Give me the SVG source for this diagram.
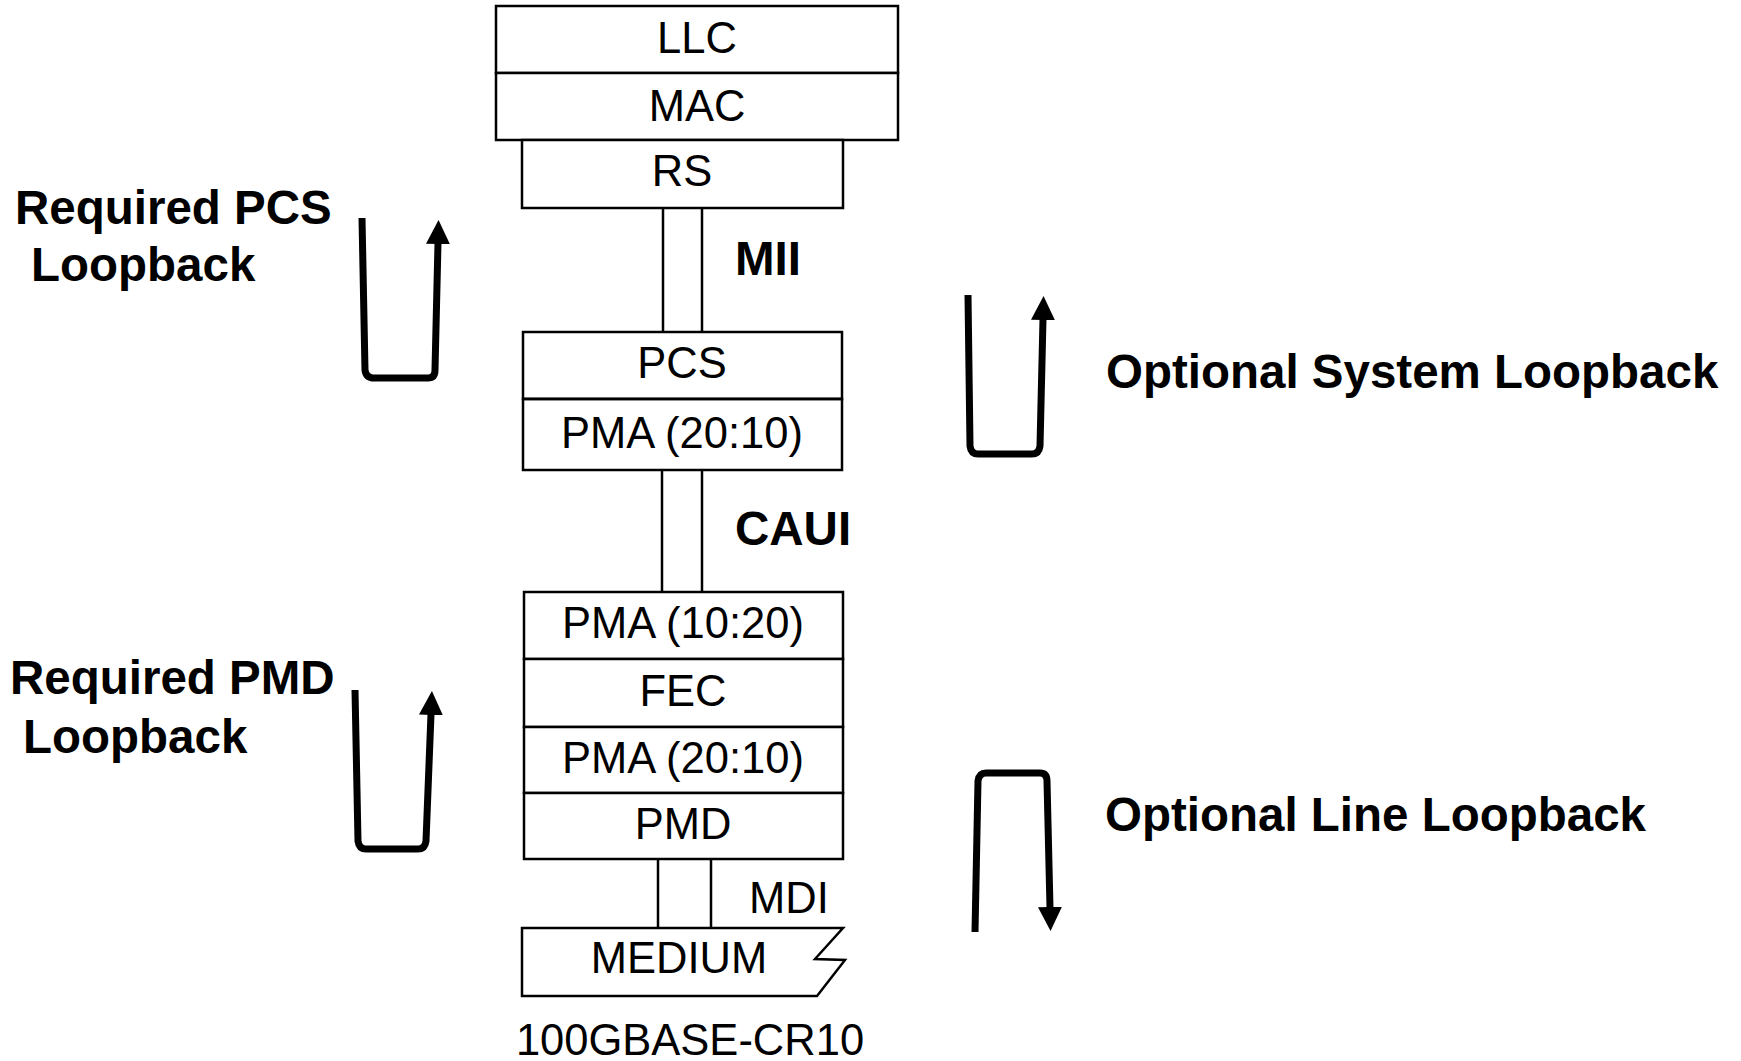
<svg xmlns="http://www.w3.org/2000/svg" width="1741" height="1061" viewBox="0 0 1741 1061">
<style>
  .box { fill: #ffffff; stroke: #000000; stroke-width: 2.5; }
  .wire { stroke: #000000; stroke-width: 2.5; fill: none; }
  .loop { stroke: #000000; stroke-width: 7; fill: none; stroke-linejoin: round; }
  .t { font-family: "Liberation Sans", Arial, sans-serif; font-size: 43.5px; fill: #000000; text-anchor: middle; }
  .b { font-family: "Liberation Sans", Arial, sans-serif; font-size: 47.5px; font-weight: bold; fill: #000000; }
</style>
<defs>
  <marker id="head" markerUnits="userSpaceOnUse" viewBox="0 0 24 24" markerWidth="24" markerHeight="24" refX="1" refY="12" orient="auto">
    <path d="M0,0 L24,12 L0,24 z" fill="#000000"/>
  </marker>
</defs>
<rect width="1741" height="1061" fill="#ffffff"/>

<g id="connectors">
  <g id="mii">
    <line class="wire" x1="663" y1="208" x2="663" y2="332"/>
    <line class="wire" x1="702" y1="208" x2="702" y2="332"/>
  </g>
  <g id="caui">
    <line class="wire" x1="662" y1="470" x2="662" y2="592"/>
    <line class="wire" x1="702" y1="470" x2="702" y2="592"/>
  </g>
  <g id="mdi">
    <line class="wire" x1="658" y1="859" x2="658" y2="928"/>
    <line class="wire" x1="711" y1="859" x2="711" y2="928"/>
  </g>
  <path id="pcs-loop" class="loop" marker-end="url(#head)" d="M362,218 L365,370 Q366,378 374,378 L428,378 Q435,378 435,370 L438,243"/>
  <path id="system-loop" class="loop" marker-end="url(#head)" d="M968,295 L970,446 Q971,454 978,454 L1032,454 Q1039,454 1040,446 L1043,319"/>
  <path id="pmd-loop" class="loop" marker-end="url(#head)" d="M355,690 L358,841 Q359,849 366,849 L418,849 Q425,849 426,841 L431,714"/>
  <path id="line-loop" class="loop" marker-end="url(#head)" d="M975,932 L978,781 Q979,773 986,773 L1040,773 Q1047,773 1047,781 L1050,908"/>
</g>

<g id="llc"><rect class="box" x="496" y="6" width="402" height="67"/><text class="t" x="697" y="53">LLC</text></g>
<g id="mac"><rect class="box" x="496" y="73" width="402" height="67"/><text class="t" x="697" y="121">MAC</text></g>
<g id="rs"><rect class="box" x="522" y="140" width="321" height="68"/><text class="t" x="682" y="186">RS</text></g>

<g id="pcs"><rect class="box" x="523" y="332" width="319" height="67"/><text class="t" x="682" y="378">PCS</text></g>
<g id="pma-20-10-a"><rect class="box" x="523" y="399" width="319" height="71"/><text class="t" x="682" y="448">PMA (20:10)</text></g>
<line class="wire" x1="523" y1="399" x2="842" y2="399" stroke-width="3.5"/>

<g id="pma-10-20"><rect class="box" x="524" y="592" width="319" height="67"/><text class="t" x="683" y="638">PMA (10:20)</text></g>
<g id="fec"><rect class="box" x="524" y="659" width="319" height="68"/><text class="t" x="683" y="706">FEC</text></g>
<g id="pma-20-10-b"><rect class="box" x="524" y="727" width="319" height="66"/><text class="t" x="683" y="773">PMA (20:10)</text></g>
<g id="pmd"><rect class="box" x="524" y="793" width="319" height="66"/><text class="t" x="683" y="839">PMD</text></g>

<g id="medium">
  <polygon class="box" points="522,928 843,928 815,959 845,960 817,996 522,996"/>
  <text class="t" x="679" y="973">MEDIUM</text>
</g>

<g id="labels">
  <text class="b" x="735" y="275">MII</text>
  <text class="b" x="735" y="545">CAUI</text>
  <text class="t" x="749" y="913" style="text-anchor:start">MDI</text>
  <text class="t" x="690" y="1055">100GBASE-CR10</text>
  <text class="b" x="15" y="224">Required PCS</text>
  <text class="b" x="31" y="281">Loopback</text>
  <text class="b" x="10" y="694">Required PMD</text>
  <text class="b" x="23" y="753">Loopback</text>
  <text class="b" x="1106" y="388">Optional System Loopback</text>
  <text class="b" x="1105" y="831">Optional Line Loopback</text>
</g>
</svg>
